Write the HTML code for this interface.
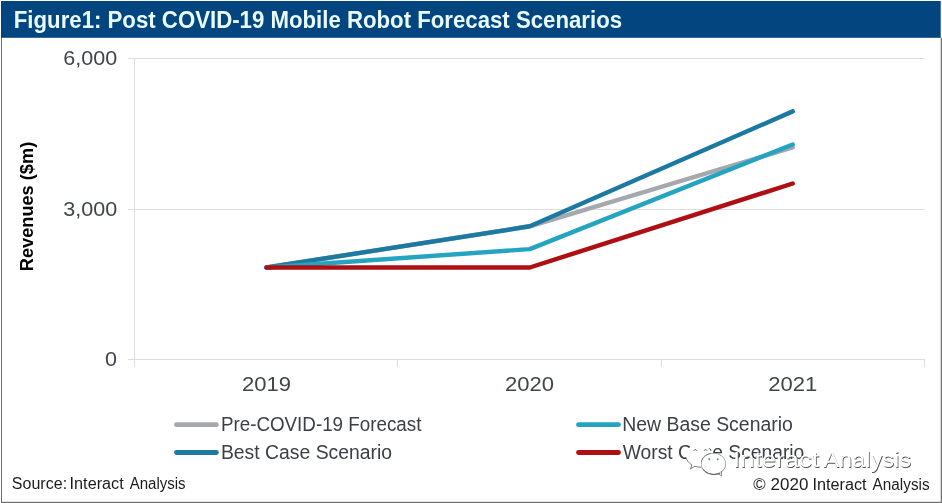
<!DOCTYPE html>
<html lang="en">
<head>
<meta charset="utf-8">
<title>Figure1: Post COVID-19 Mobile Robot Forecast Scenarios</title>
<style>
html,body{margin:0;padding:0;background:#fff;}
body{width:942px;height:503px;overflow:hidden;position:relative;font-family:"Liberation Sans",sans-serif;}
svg{position:absolute;left:0;top:0;display:block;}
text{font-family:"Liberation Sans",sans-serif;}
.ax{fill:#41454a;font-size:19.6px;}
.lg{fill:#3c4045;font-size:19.6px;}
.ft{fill:#1c1c1c;font-size:15.8px;}
</style>
</head>
<body>
<svg width="942" height="503" viewBox="0 0 942 503">
  <!-- frame -->
  <rect x="0" y="0" width="942" height="503" fill="#ffffff"/>
  <rect x="1" y="1" width="939.7" height="36.8" fill="#03457f"/>
  <rect x="1" y="37.8" width="1" height="465.2" fill="#6f6f6f"/>
  <rect x="1" y="1" width="1" height="36.8" fill="#0b3a69"/>
  <rect x="940.7" y="37.8" width="1.3" height="465.2" fill="#777777"/>
  <rect x="1" y="501.8" width="941" height="1.2" fill="#6f6f6f"/>

  <!-- title -->
  <text x="13.8" y="28" font-size="23" font-weight="bold" fill="#e9fbff" textLength="608.3" lengthAdjust="spacingAndGlyphs">Figure1: Post COVID-19 Mobile Robot Forecast Scenarios</text>

  <!-- gridlines / axes -->
  <g stroke="#dddddd" stroke-width="1" fill="none" shape-rendering="crispEdges">
    <line x1="128" y1="58.5" x2="925" y2="58.5"/>
    <line x1="128" y1="209.5" x2="925" y2="209.5"/>
    <line x1="128" y1="359.5" x2="925" y2="359.5"/>
    <line x1="134.5" y1="58" x2="134.5" y2="367"/>
    <line x1="397.5" y1="359" x2="397.5" y2="367"/>
    <line x1="661.5" y1="359" x2="661.5" y2="367"/>
    <line x1="924.5" y1="359" x2="924.5" y2="367"/>
  </g>

  <!-- y labels -->
  <text class="ax" x="63.2" y="65" textLength="54" lengthAdjust="spacingAndGlyphs">6,000</text>
  <text class="ax" x="63.2" y="215.6" textLength="54" lengthAdjust="spacingAndGlyphs">3,000</text>
  <text class="ax" x="105" y="366" textLength="12" lengthAdjust="spacingAndGlyphs">0</text>

  <!-- y title -->
  <text transform="translate(33,271.2) rotate(-90)" font-size="18.5" font-weight="bold" fill="#000" textLength="129.4" lengthAdjust="spacingAndGlyphs">Revenues ($m)</text>

  <!-- x labels -->
  <text class="ax" x="242" y="391" textLength="49" lengthAdjust="spacingAndGlyphs">2019</text>
  <text class="ax" x="505" y="391" textLength="49" lengthAdjust="spacingAndGlyphs">2020</text>
  <text class="ax" x="768.2" y="391" textLength="49" lengthAdjust="spacingAndGlyphs">2021</text>

  <!-- series -->
  <g fill="none" stroke-width="4.45" stroke-linecap="round" stroke-linejoin="round">
    <polyline stroke="#a5a8ad" points="266.5,267.5 529.8,226.3 792.7,147.4"/>
    <polyline stroke="#1b79a2" points="266.5,267.5 529.8,226.3 792.7,111.4"/>
    <polyline stroke="#25a4c2" points="266.5,267.5 529.8,249.1 792.7,144.5"/>
    <polyline stroke="#ad0f13" points="266.5,267.5 529.8,267.5 792.7,183.5"/>
  </g>

  <!-- legend -->
  <g fill="none" stroke-width="4.8" stroke-linecap="round">
    <line stroke="#a5a8ad" x1="176.5" y1="424.7" x2="216.4" y2="424.7"/>
    <line stroke="#1b79a2" x1="176.5" y1="452.5" x2="216.4" y2="452.5"/>
    <line stroke="#25a4c2" x1="578.5" y1="424.7" x2="618.5" y2="424.7"/>
    <line stroke="#ad0f13" x1="578.5" y1="452.5" x2="618.5" y2="452.5"/>
  </g>
  <text class="lg" x="220.9" y="431" textLength="200.5" lengthAdjust="spacingAndGlyphs">Pre-COVID-19 Forecast</text>
  <text class="lg" x="220.9" y="459" textLength="171.2" lengthAdjust="spacingAndGlyphs">Best Case Scenario</text>
  <text class="lg" x="622.3" y="431" textLength="170.5" lengthAdjust="spacingAndGlyphs">New Base Scenario</text>
  <text class="lg" x="622.8" y="459" textLength="181.5" lengthAdjust="spacingAndGlyphs">Worst Case Scenario</text>

  <!-- footer -->
  <g class="ft">
    <text x="11.8" y="488.8" textLength="55.3" lengthAdjust="spacingAndGlyphs">Source:</text>
    <text x="69.6" y="488.8" textLength="54.1" lengthAdjust="spacingAndGlyphs">Interact</text>
    <text x="129.7" y="488.8" textLength="55.9" lengthAdjust="spacingAndGlyphs">Analysis</text>
  </g>
  <g class="ft">
    <text x="753.2" y="490.1" textLength="12.4" lengthAdjust="spacingAndGlyphs">©</text>
    <text x="770.6" y="490.1" textLength="37.8" lengthAdjust="spacingAndGlyphs">2020</text>
    <text x="812.5" y="490.1" textLength="54.1" lengthAdjust="spacingAndGlyphs">Interact</text>
    <text x="872.6" y="490.1" textLength="57" lengthAdjust="spacingAndGlyphs">Analysis</text>
  </g>

  <!-- watermark -->
  <g>
    <!-- big bubble -->
    <ellipse cx="698.7" cy="455.6" rx="13" ry="11.6" fill="#ffffff"/>
    <path d="M691 464 L690.5 468.9 L695.6 466.4 Z" fill="#ffffff"/>
    <path d="M685.8 457.4 C686.9 460.6 689 463.2 691.9 464.9 L690.6 468.8 L694.9 466.3 C696.9 466.9 698.9 467.2 701 467.2" fill="none" stroke="#505050" stroke-width="0.75" stroke-linecap="round" stroke-linejoin="round"/>
    <!-- small bubble -->
    <ellipse cx="713.5" cy="463.9" rx="12.5" ry="10.8" fill="#8a8a8a"/>
    <path d="M717.4 473.4 L721.6 475.9 L721.4 471.2 Z" fill="#ffffff" stroke="#5a5a5a" stroke-width="0.7" stroke-linejoin="round"/>
    <ellipse cx="713.4" cy="463.8" rx="11.9" ry="10.2" fill="#ffffff"/>
    <path d="M703.2 469.6 C706 473 710 474.5 714 474.5 C716.4 474.5 718.4 474.1 720 473.4" fill="none" stroke="#4a4a4a" stroke-width="0.8" stroke-linecap="round"/>
    <path d="M701.3 462 C701.9 458 705 454.4 710.5 453.4" fill="none" stroke="#4a4a4a" stroke-width="0.6" stroke-linecap="round"/>
    <!-- eyes -->
    <g fill="none" stroke="#5a5f66" stroke-width="1" stroke-linecap="round">
      <path d="M693.9 450.4 A1.5 1.5 0 0 1 696.6 450.4"/>
      <path d="M704.3 450.4 A1.5 1.5 0 0 1 707 450.4"/>
    </g>
    <g fill="#7c7c7c">
      <circle cx="709.3" cy="459.3" r="1"/><circle cx="717.7" cy="459.3" r="1"/>
    </g>
    <g font-size="22">
      <text x="733.7" y="467.9" fill="#505050" textLength="86" lengthAdjust="spacingAndGlyphs">Interact</text>
      <text x="824.1" y="467.9" fill="#505050" textLength="87.6" lengthAdjust="spacingAndGlyphs">Analysis</text>
      <text x="733" y="467.2" fill="#ffffff" textLength="86" lengthAdjust="spacingAndGlyphs">Interact</text>
      <text x="823.4" y="467.2" fill="#ffffff" textLength="87.6" lengthAdjust="spacingAndGlyphs">Analysis</text>
    </g>
  </g>
</svg>
</body>
</html>
